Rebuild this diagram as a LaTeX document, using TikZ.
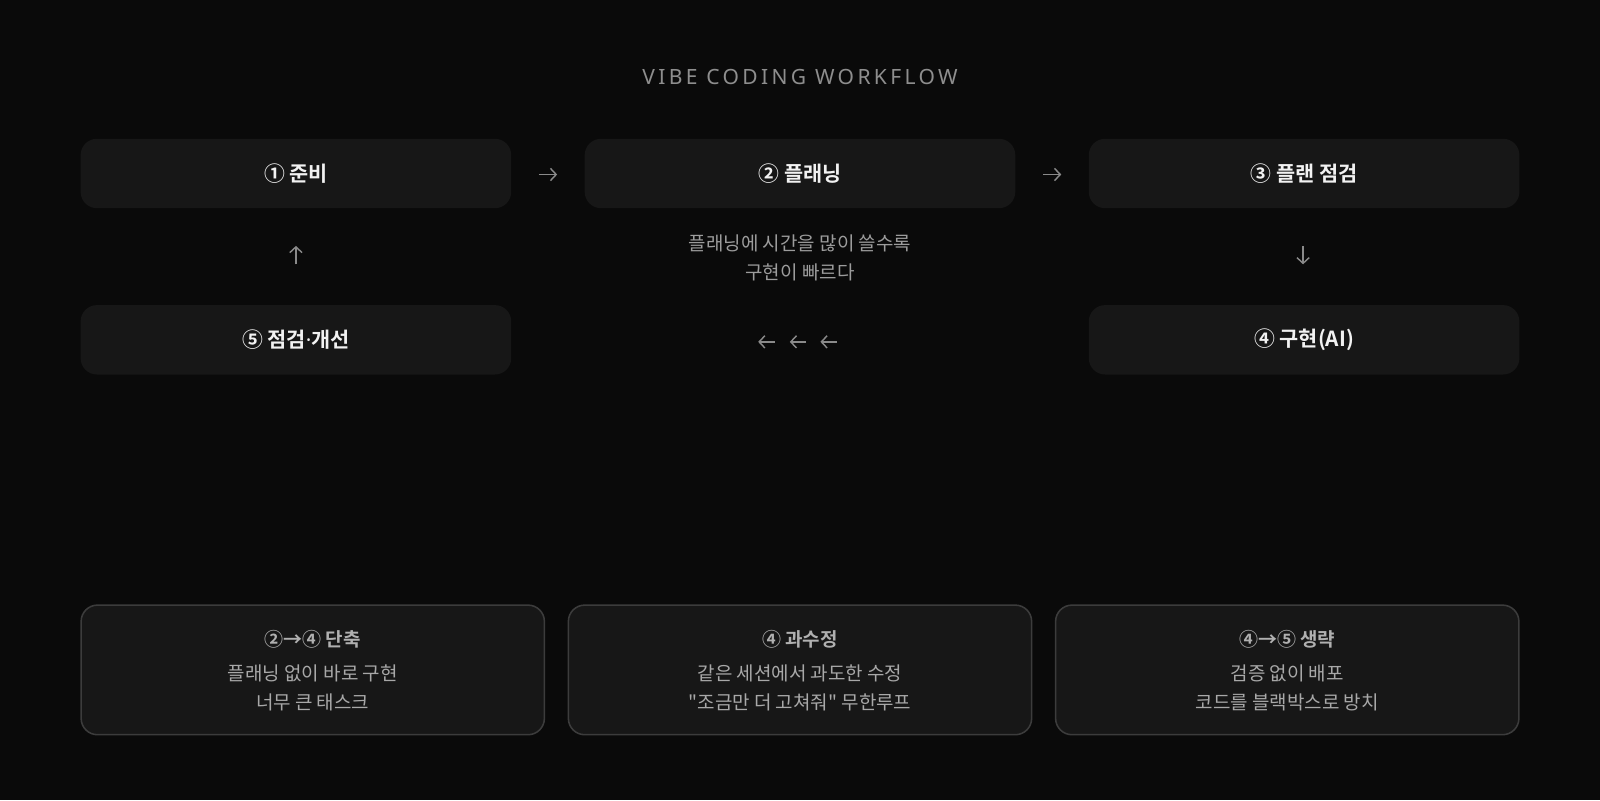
\documentclass[tikz,border=0pt]{standalone}
\usepackage{fontspec}
\setmainfont{Noto Sans CJK KR}
\newfontfamily\krtext{Noto Sans CJK KR}
\newfontfamily\titlefont[LetterSpace=16]{Noto Sans}
\newfontfamily\latinfont{Noto Sans}
\newfontfamily\boldkr{Noto Sans CJK KR Bold}
\usetikzlibrary{arrows.meta}
\definecolor{bg}{HTML}{0A0A0A}
\definecolor{boxfill}{HTML}{171717}
\definecolor{boxline}{HTML}{3C3C3C}
\definecolor{titlegray}{HTML}{8E8E8E}
\definecolor{labelwhite}{HTML}{F2F2F2}
\definecolor{midgray}{HTML}{9C9C9C}
\definecolor{arrowgray}{HTML}{8A8A8A}
\definecolor{btitle}{HTML}{B0B0B0}
\definecolor{bline}{HTML}{A8A8A8}
\tikzset{
  stepbox/.style={fill=boxfill, rounded corners=8pt, minimum width=211pt, minimum height=34pt, inner sep=0pt,
    font=\boldkr\fontsize{10.2pt}{13pt}\selectfont, text=labelwhite},
  pitbox/.style={fill=boxfill, draw=boxline, line width=0.75pt, rounded corners=8pt, minimum width=227pt, minimum height=63.5pt, inner sep=0pt},
  flowarrow/.style={draw=arrowgray, line width=0.7pt, -{Straight Barb[length=2.8pt,width=6pt,line width=0.7pt]}},
  midtext/.style={text=midgray, font=\krtext\fontsize{9.3pt}{14pt}\selectfont, align=center, inner sep=0pt},
  pittitle/.style={text=btitle, font=\boldkr\fontsize{9.3pt}{12pt}\selectfont, inner sep=0pt},
  pitline/.style={text=bline, font=\krtext\fontsize{9.3pt}{14pt}\selectfont, align=center, inner sep=0pt}
}
\begin{document}
\begin{tikzpicture}[x=0.5pt,y=-0.5pt]
\useasboundingbox (0,0) rectangle (1568,784);
\fill[bg] (0,0) rectangle (1568,784);
\node[text=titlegray, font=\titlefont\fontsize{10.3pt}{13pt}\selectfont, inner sep=0pt] (title) at (784,75) {VIBE CODING WORKFLOW};
% step boxes
\node[stepbox] (s1) at (290,170) {① 준비};
\node[stepbox] (s2) at (784,170) {② 플래닝};
\node[stepbox] (s3) at (1278,170) {③ 플랜 점검};
\node[stepbox] (s5) at (290,333) {⑤ 점검{\latinfont\bfseries ·}개선};
\node[stepbox] (s4) at (1278,333) {④ 구현(AI)};
% arrows
\coordinate (a1s) at (528,171); \coordinate (a1e) at (546,171);
\draw[flowarrow] (a1s) -- (a1e);
\coordinate (a2s) at (1022,171); \coordinate (a2e) at (1040,171);
\draw[flowarrow] (a2s) -- (a2e);
\coordinate (a3s) at (1277,241); \coordinate (a3e) at (1277,259);
\draw[flowarrow] (a3s) -- (a3e);
\coordinate (a4s) at (290,259); \coordinate (a4e) at (290,241);
\draw[flowarrow] (a4s) -- (a4e);
\foreach \i/\x in {1/751,2/782,3/812}{
  \coordinate (b\i s) at (\x+8,335); \coordinate (b\i e) at (\x-8,335);
  \draw[flowarrow] (b\i s) -- (b\i e);
}
% middle text
\node[midtext] (mid) at (784,252.5) {플래닝에 시간을 많이 쓸수록\\구현이 빠르다};
% pitfall boxes
\node[pitbox] (p1) at (306.5,656.5) {};
\node[pitbox] (p2) at (784,656.5) {};
\node[pitbox] (p3) at (1261.5,656.5) {};
\node[pittitle] (p1t) at (306.5,626) {②→④ 단축};
\node[pitline] (p1l) at (306.5,674) {플래닝 없이 바로 구현\\너무 큰 태스크};
\node[pittitle] (p2t) at (784,626) {④ 과수정};
\node[pitline] (p2l) at (784,674) {같은 세션에서 과도한 수정\\"조금만 더 고쳐줘" 무한루프};
\node[pittitle] (p3t) at (1261.5,626) {④→⑤ 생략};
\node[pitline] (p3l) at (1261.5,674) {검증 없이 배포\\코드를 블랙박스로 방치};
\end{tikzpicture}
\end{document}
